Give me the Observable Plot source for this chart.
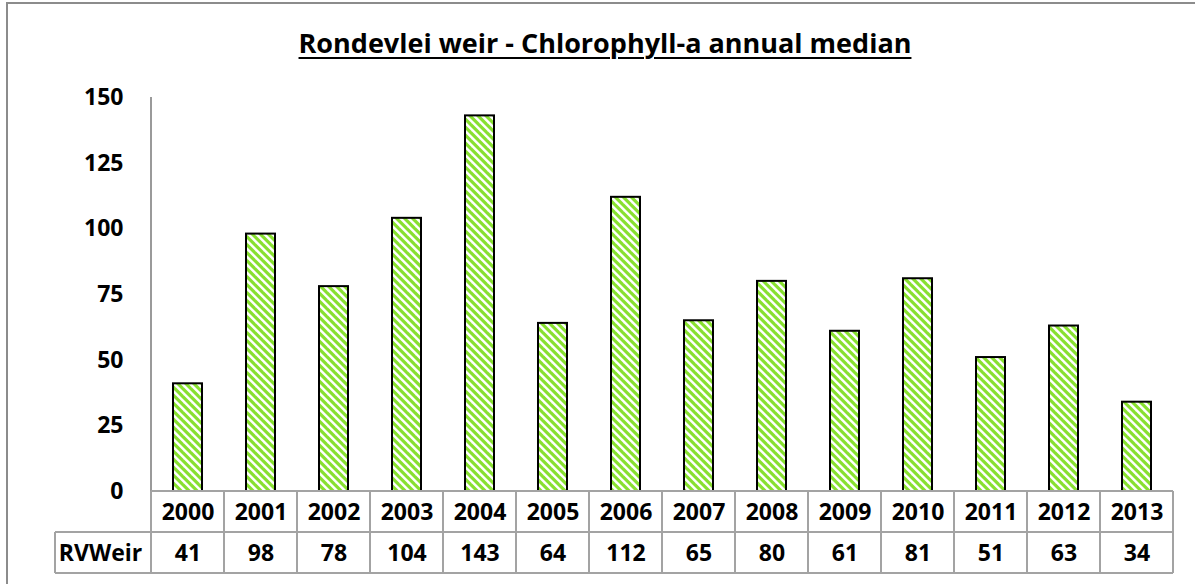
<!DOCTYPE html>
<html>
<head>
<meta charset="utf-8">
<script src="https://cdn.jsdelivr.net/npm/d3@7"></script>
<script src="https://cdn.jsdelivr.net/npm/@observablehq/plot@0.6"></script>
<style>
  html, body { margin: 0; padding: 0; background: #fff; }
  #wrap { position: relative; width: 1195px; height: 584px; overflow: hidden; font-family: "Open Sans", sans-serif; }
  #frame { position: absolute; left: 6px; top: 2px; width: 1300px; height: 700px; border: 2px solid #8c8c8c; box-sizing: border-box; pointer-events: none; z-index: 3; }
  #title { position: absolute; left: 0; top: 29px; width: 1210px; text-align: center; font-size: 27px; line-height: 28px; font-weight: 700; color: #000; text-decoration: underline; text-decoration-thickness: 2px; text-underline-offset: 4px; z-index: 2; }
  #chart { position: absolute; left: 0; top: 0; z-index: 1; }
</style>
</head>
<body>
<div id="wrap">
  <div id="frame"></div>
  <div id="title">Rondevlei weir - Chlorophyll-a annual median</div>
  <div id="chart"></div>
</div>
<script>
// ---- data ----
const years = ["2000","2001","2002","2003","2004","2005","2006","2007","2008","2009","2010","2011","2012","2013"];
const values = [41, 98, 78, 104, 143, 64, 112, 65, 80, 61, 81, 51, 63, 34];
const seriesName = "RVWeir";
const yTicks = [0, 25, 50, 75, 100, 125, 150];

const rows = years.map((year, i) => ({year, value: values[i]}));

const W = 1195, H = 584;
const marginLeft = 148, marginRight = 19, marginTop = 97, marginBottom = 93;
const rowH = 41;
const font = {fontFamily: "'Open Sans', sans-serif", fontSize: "23px", fontWeight: 700};

const plot = Plot.plot({
  width: W,
  height: H,
  marginLeft, marginRight, marginTop, marginBottom,
  style: {...font, background: "transparent", color: "#000"},
  x: {domain: years, paddingInner: 0.605, paddingOuter: 0.3025, axis: null},
  y: {domain: [0, 150], axis: null},
  marks: [
    Plot.axisY({ticks: yTicks, tickSize: 0, tickPadding: 25, label: null, fill: "#000"}),
    Plot.barY(rows, {x: "year", y: "value", fill: "url(#rvStripes)", stroke: "#000", strokeWidth: 2}),
    Plot.text(rows, {x: "year", text: "year", frameAnchor: "bottom", dy: rowH / 2 + 1, lineAnchor: "middle", fill: "#000"}),
    Plot.text(rows, {x: "year", text: d => String(d.value), frameAnchor: "bottom", dy: rowH * 1.5 + 1, lineAnchor: "middle", fill: "#000"}),
    Plot.text([seriesName], {text: d => d, frameAnchor: "bottom-left", dx: -48, dy: rowH * 1.5 + 1, lineAnchor: "middle", textAnchor: "middle", fill: "#000"})
  ]
});

document.getElementById("chart").appendChild(plot);

// pattern definition (wide downward diagonal)
const svg = d3.select(plot);
const defs = svg.insert("defs", ":first-child");
const pat = defs.append("pattern").attr("id", "rvStripes").attr("patternUnits", "userSpaceOnUse")
  .attr("width", 8).attr("height", 8);
pat.append("rect").attr("width", 8).attr("height", 8).attr("fill", "#ffffff");
pat.append("polygon").attr("points", "0,0 4.5,0 8,3.5 8,8").attr("fill", "#88e030");
pat.append("polygon").attr("points", "0,3.5 4.5,8 0,8").attr("fill", "#88e030");

// data table grid lines & y axis line, positioned from the Plot scales
const xs = plot.scale("x");
const ys = plot.scale("y");
let xApply = xs.apply ? (d => xs.apply(d)) :
  (() => { const s = d3.scaleBand().domain(xs.domain).range(xs.range).paddingInner(xs.paddingInner).paddingOuter(xs.paddingOuter).align(xs.align ?? 0.5); return d => s(d); })();
const bw = xs.bandwidth, step = xs.step;
const yApply = ys.apply ? (v => ys.apply(v)) : (v => d3.scaleLinear().domain(ys.domain).range(ys.range)(v));
const y0 = yApply(0), yTop = yApply(150);
const cellLeft = d => xApply(d) + bw / 2 - step / 2;
const xStart = cellLeft(years[0]);
const xEnd = cellLeft(years[years.length - 1]) + step;
const labelLeft = xStart - 96;

const g = svg.append("g").attr("fill", "none").attr("stroke", "#a3a3a3").attr("stroke-width", 2);
// y axis line
g.append("line").attr("x1", xStart).attr("x2", xStart).attr("y1", yTop).attr("y2", y0).attr("stroke", "#9a9a9a");
// horizontal table lines
g.append("line").attr("x1", xStart).attr("x2", xEnd).attr("y1", y0).attr("y2", y0);
g.append("line").attr("x1", labelLeft).attr("x2", xEnd).attr("y1", y0 + rowH).attr("y2", y0 + rowH);
g.append("line").attr("x1", labelLeft).attr("x2", xEnd).attr("y1", y0 + 2 * rowH).attr("y2", y0 + 2 * rowH);
// vertical table lines
g.append("line").attr("x1", labelLeft).attr("x2", labelLeft).attr("y1", y0 + rowH).attr("y2", y0 + 2 * rowH);
years.forEach(d => {
  const xl = cellLeft(d);
  g.append("line").attr("x1", xl).attr("x2", xl).attr("y1", y0).attr("y2", y0 + 2 * rowH);
});
g.append("line").attr("x1", xEnd).attr("x2", xEnd).attr("y1", y0).attr("y2", y0 + 2 * rowH);
</script>
</body>
</html>
